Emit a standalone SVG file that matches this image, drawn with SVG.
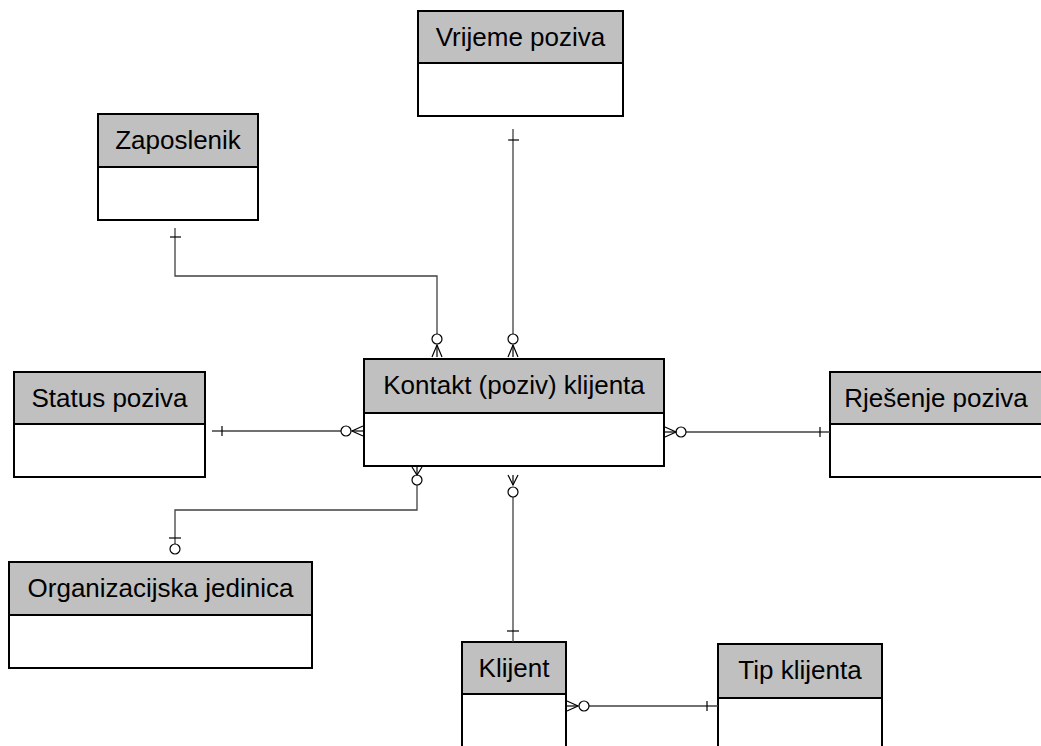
<svg xmlns="http://www.w3.org/2000/svg" width="1041" height="746" viewBox="0 0 1041 746">
<style>
.hdr{fill:#c0c0c0;stroke:#000;stroke-width:2}
.body{fill:#fff;stroke:#000;stroke-width:2}
.t{font-family:"Liberation Sans",Arial,sans-serif;font-size:26px;fill:#000;text-anchor:middle}
.c{fill:none;stroke:#404040;stroke-width:1.3}
.m{fill:none;stroke:#000;stroke-width:1.2}
.o{fill:#fff;stroke:#000;stroke-width:1.2}
</style>
<rect width="1041" height="746" fill="#fff"/>
<g id="vrijeme">
<rect class="body" x="418" y="11" width="205" height="105"/>
<rect class="hdr" x="418" y="11" width="205" height="52"/>
<text class="t" x="520.5" y="46">Vrijeme poziva</text>
</g>
<g id="zaposlenik">
<rect class="body" x="98" y="114" width="160" height="106"/>
<rect class="hdr" x="98" y="114" width="160" height="53"/>
<text class="t" x="178" y="149">Zaposlenik</text>
</g>
<g id="kontakt">
<rect class="body" x="364" y="359" width="300" height="107"/>
<rect class="hdr" x="364" y="359" width="300" height="54"/>
<text class="t" x="514" y="394">Kontakt (poziv) klijenta</text>
</g>
<g id="status">
<rect class="body" x="14" y="372" width="191" height="105"/>
<rect class="hdr" x="14" y="372" width="191" height="52"/>
<text class="t" x="109.5" y="407">Status poziva</text>
</g>
<g id="rjesenje">
<rect class="body" x="830" y="372" width="212" height="105"/>
<rect class="hdr" x="830" y="372" width="212" height="52"/>
<text class="t" x="936" y="407">Rješenje poziva</text>
</g>
<g id="org">
<rect class="body" x="9" y="562" width="303" height="106"/>
<rect class="hdr" x="9" y="562" width="303" height="53"/>
<text class="t" x="160.5" y="597">Organizacijska jedinica</text>
</g>
<g id="klijent">
<rect class="body" x="462" y="642" width="104" height="120"/>
<rect class="hdr" x="462" y="642" width="104" height="52"/>
<text class="t" x="514" y="677">Klijent</text>
</g>
<g id="tip">
<rect class="body" x="718" y="644" width="164" height="120"/>
<rect class="hdr" x="718" y="644" width="164" height="54"/>
<text class="t" x="800" y="679">Tip klijenta</text>
</g>
<g id="connectors">
<!-- Zaposlenik - Kontakt -->
<polyline class="c" points="175,228 175,276 437,276 437,334"/>
<line class="m" x1="170" y1="237" x2="181" y2="237"/>
<circle class="o" cx="437" cy="339" r="5"/>
<polyline class="m" points="432,357 437,345 442,357"/>
<line class="m" x1="437" y1="345" x2="437" y2="357"/>
<!-- Vrijeme - Kontakt -->
<line class="c" x1="513" y1="129" x2="513" y2="334"/>
<line class="m" x1="508" y1="140" x2="519" y2="140"/>
<circle class="o" cx="513" cy="339" r="5"/>
<polyline class="m" points="508,357 513,345 518,357"/>
<line class="m" x1="513" y1="345" x2="513" y2="357"/>
<!-- Status - Kontakt -->
<line class="c" x1="212" y1="431" x2="341" y2="431"/>
<line class="m" x1="222" y1="426" x2="222" y2="436"/>
<circle class="o" cx="346" cy="431" r="5"/>
<polyline class="m" points="363,426 352,431 363,436"/>
<line class="m" x1="352" y1="431" x2="363" y2="431"/>
<!-- Kontakt - Rjesenje -->
<line class="c" x1="686" y1="432" x2="830" y2="432"/>
<line class="m" x1="820" y1="427" x2="820" y2="437"/>
<circle class="o" cx="681" cy="432" r="5"/>
<polyline class="m" points="665,427 676,432 665,437"/>
<line class="m" x1="665" y1="432" x2="676" y2="432"/>
<!-- Kontakt - Org -->
<polyline class="c" points="417,485 417,510 175,510 175,544"/>
<line class="m" x1="169" y1="538" x2="181" y2="538"/>
<circle class="o" cx="175" cy="549" r="5"/>
<circle class="o" cx="417" cy="480" r="5"/>
<polyline class="m" points="412,467 417,475 422,467"/>
<line class="m" x1="417" y1="467" x2="417" y2="475"/>
<!-- Kontakt - Klijent -->
<line class="c" x1="513" y1="497" x2="513" y2="642"/>
<line class="m" x1="507" y1="631" x2="519" y2="631"/>
<circle class="o" cx="513" cy="492" r="5"/>
<polyline class="m" points="508,475 513,485 518,475"/>
<line class="m" x1="513" y1="475" x2="513" y2="485"/>
<!-- Klijent - Tip -->
<line class="c" x1="589" y1="706" x2="718" y2="706"/>
<line class="m" x1="707" y1="701" x2="707" y2="711"/>
<circle class="o" cx="584" cy="706" r="5"/>
<polyline class="m" points="567,701 578,706 567,711"/>
<line class="m" x1="567" y1="706" x2="578" y2="706"/>
</g>
</svg>
